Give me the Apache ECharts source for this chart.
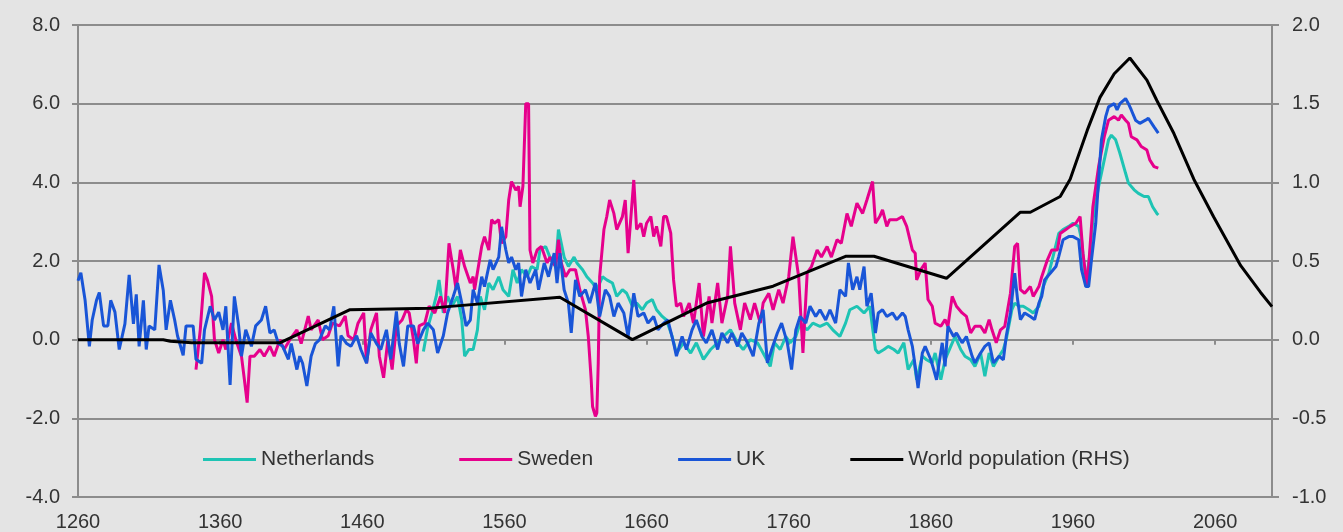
<!DOCTYPE html>
<html>
<head>
<meta charset="utf-8">
<script src="https://cdn.jsdelivr.net/npm/echarts@6/dist/echarts.min.js"></script>
<style>
  html, body { margin: 0; padding: 0; background: #e4e4e4; }
  #chart { width: 1343px; height: 532px; }
</style>
</head>
<body>
<div id="chart"></div>
<script>
// year, value pairs (left axis, % growth)
var ukData = [[1260,1.5],[1262,1.7],[1265,1.0],[1268,-0.17],[1270,0.5],[1273,1.0],[1275,1.2],[1278,0.35],[1281,0.35],[1283,1.0],[1286,0.7],[1289,-0.25],[1293,0.4],[1296,1.65],[1299,0.4],[1301,1.15],[1303,-0.17],[1306,1.0],[1308,-0.25],[1310,0.35],[1314,0.25],[1317,1.9],[1320,1.25],[1322,0.25],[1325,1.0],[1328,0.5],[1330,0.1],[1334,-0.4],[1336,0.35],[1341,0.35],[1343,-0.5],[1347,-0.6],[1349,0.25],[1353,0.85],[1356,0.5],[1359,0.7],[1362,0.25],[1364,0.85],[1367,-1.15],[1370,1.1],[1373,0.35],[1375,-0.42],[1378,0.25],[1382,-0.17],[1385,0.35],[1389,0.5],[1392,0.85],[1395,0.17],[1398,0.25],[1401,-0.1],[1404,-0.17],[1408,-0.5],[1410,-0.1],[1414,-0.76],[1416,-0.42],[1418,-0.6],[1421,-1.18],[1424,-0.42],[1427,-0.1],[1430,0],[1434,0.35],[1437,0.25],[1440,0.85],[1443,-0.68],[1445,0.1],[1449,-0.1],[1452,-0.17],[1456,0.1],[1459,-0.25],[1463,-0.6],[1466,0.17],[1470,-0.1],[1473,-0.25],[1477,0.25],[1480,-0.5],[1484,0.72],[1486,-0.1],[1489,-0.68],[1492,0.35],[1496,0.35],[1499,-0.1],[1503,0.25],[1506,0.42],[1510,0.25],[1513,-0.34],[1517,0.1],[1520,0.68],[1524,1.1],[1527,1.44],[1530,0.93],[1533,0.35],[1536,0.5],[1538,1.27],[1541,0.93],[1544,1.6],[1546,1.35],[1550,2.03],[1552,1.78],[1556,2.1],[1558,2.87],[1561,2.28],[1563,1.95],[1565,2.1],[1568,1.78],[1570,1.95],[1572,1.1],[1575,1.78],[1578,1.44],[1582,1.78],[1584,1.27],[1588,1.95],[1591,1.6],[1595,2.2],[1597,1.44],[1599,2.2],[1602,1.27],[1605,0.93],[1607,0.17],[1610,1.52],[1613,1.1],[1617,1.27],[1620,0.93],[1624,1.44],[1627,0.59],[1631,1.27],[1634,1.1],[1637,0.59],[1640,0.93],[1644,0.68],[1647,0.08],[1651,1.18],[1654,0.59],[1658,0.68],[1661,0.42],[1665,0.59],[1668,0.25],[1672,0.42],[1675,0.5],[1679,-0.08],[1681,-0.42],[1685,0.08],[1688,-0.25],[1692,0.25],[1695,0.5],[1699,0.08],[1702,-0.08],[1706,0.25],[1710,-0.25],[1713,0.17],[1717,-0.08],[1720,0.17],[1724,-0.17],[1727,0.17],[1731,-0.08],[1735,-0.42],[1739,0.42],[1742,0.76],[1745,-0.59],[1748,-0.25],[1752,0.17],[1755,0.42],[1759,-0.08],[1762,-0.76],[1765,0.25],[1768,0.59],[1772,0.42],[1775,0.85],[1779,0.59],[1782,0.76],[1786,0.5],[1789,0.76],[1793,0.42],[1796,1.27],[1800,1.1],[1802,1.95],[1805,1.27],[1808,1.6],[1810,1.27],[1813,1.86],[1815,0.85],[1818,1.18],[1821,0.17],[1823,0.68],[1826,0.76],[1829,0.59],[1833,0.68],[1836,0.51],[1840,0.68],[1842,0.59],[1844,0.25],[1847,-0.17],[1849,-0.68],[1851,-1.23],[1854,-0.34],[1856,-0.17],[1860,-0.51],[1862,-0.76],[1864,-1.02],[1868,-0.08],[1870,-0.68],[1872,0.34],[1876,0.08],[1878,0.17],[1882,-0.08],[1885,0.08],[1889,-0.42],[1891,-0.59],[1895,-0.34],[1898,-0.17],[1901,-0.08],[1904,-0.59],[1908,-0.42],[1911,-0.51],[1913,0.08],[1916,0.68],[1919,1.69],[1921,1.02],[1923,0.51],[1926,0.68],[1930,0.59],[1933,0.51],[1936,0.93],[1938,1.1],[1940,1.52],[1944,1.69],[1948,1.86],[1950,2.12],[1953,2.54],[1957,2.62],[1960,2.62],[1964,2.54],[1966,1.78],[1969,1.35],[1971,1.35],[1973,2.03],[1976,2.96],[1978,4.06],[1980,5.08],[1983,5.67],[1985,5.92],[1989,6.0],[1991,5.84],[1993,6.0],[1997,6.13],[1999,6.0],[2001,5.84],[2004,5.58],[2007,5.5],[2011,5.58],[2013,5.63],[2017,5.41],[2020,5.25]];

var seData = [[1343,-0.76],[1346,0.25],[1349,1.7],[1351,1.52],[1354,1.1],[1356,0],[1359,-0.34],[1362,0],[1364,-0.25],[1368,0.42],[1371,0],[1375,-0.42],[1377,-1.0],[1379,-1.6],[1381,-0.42],[1384,-0.42],[1388,-0.25],[1391,-0.42],[1395,-0.17],[1398,-0.42],[1402,0],[1405,-0.25],[1409,0],[1414,0.25],[1417,-0.1],[1422,0.6],[1424,0.25],[1429,0.5],[1432,0],[1436,0.1],[1439,0.42],[1444,0.35],[1448,0.6],[1450,0.1],[1454,0],[1457,0.42],[1461,0.68],[1463,-0.6],[1466,0.25],[1470,0.68],[1472,-0.42],[1475,-0.97],[1478,0],[1481,-0.76],[1484,0.35],[1488,0.5],[1491,0.76],[1493,0.68],[1496,0],[1498,-0.6],[1500,0.35],[1504,0.42],[1507,0.85],[1511,0.68],[1515,1.1],[1518,0.68],[1521,2.45],[1524,1.78],[1526,1.27],[1529,2.28],[1532,1.86],[1536,1.44],[1538,1.6],[1539,1.27],[1544,2.37],[1546,2.62],[1549,2.28],[1551,3.05],[1553,2.96],[1556,3.05],[1558,2.45],[1561,2.62],[1563,3.55],[1565,4.02],[1568,3.8],[1570,3.9],[1571,3.38],[1573,3.9],[1575,6.0],[1577,6.0],[1578,2.28],[1580,1.95],[1583,2.28],[1586,2.37],[1590,1.95],[1592,2.1],[1596,1.86],[1598,2.54],[1600,1.95],[1603,1.6],[1606,1.78],[1610,1.78],[1613,1.27],[1617,0.76],[1619,0.08],[1621,-1.0],[1622,-1.7],[1624,-1.95],[1625,-1.86],[1626,-0.6],[1627,1.6],[1630,2.8],[1632,3.13],[1634,3.55],[1637,3.21],[1639,2.8],[1643,3.13],[1645,3.55],[1647,2.2],[1651,4.06],[1653,2.8],[1656,2.96],[1658,2.62],[1660,2.96],[1663,3.13],[1665,2.62],[1667,2.88],[1670,2.37],[1672,3.13],[1674,3.13],[1677,2.71],[1679,1.52],[1681,0.85],[1684,0.93],[1686,0.59],[1690,0.93],[1693,0.42],[1697,1.44],[1700,0.08],[1704,1.1],[1706,0.42],[1710,1.44],[1713,0.42],[1717,1.1],[1719,2.37],[1722,0.93],[1726,0.25],[1729,0.93],[1733,0.51],[1736,0.93],[1740,0.42],[1742,0.93],[1746,1.18],[1749,0.76],[1753,1.27],[1756,0.93],[1760,1.6],[1763,2.62],[1767,1.6],[1770,-0.34],[1773,1.7],[1776,1.86],[1780,2.28],[1783,2.1],[1787,2.37],[1790,2.1],[1794,2.54],[1797,2.45],[1801,3.21],[1804,2.88],[1808,3.47],[1812,3.21],[1815,3.55],[1819,4.02],[1821,2.96],[1824,3.13],[1826,3.3],[1829,2.88],[1831,3.05],[1836,3.05],[1840,3.13],[1843,2.88],[1847,2.28],[1849,2.2],[1850,1.52],[1853,1.78],[1856,1.95],[1858,1.02],[1861,0.85],[1863,0.42],[1867,0.34],[1870,0.51],[1872,0.34],[1875,1.1],[1878,0.85],[1882,0.68],[1885,0.59],[1888,0.17],[1891,0.34],[1895,0.34],[1898,0.17],[1901,0.51],[1903,0.25],[1906,-0.08],[1909,0.25],[1912,0.34],[1916,1.18],[1919,2.37],[1921,2.45],[1923,1.27],[1926,1.18],[1930,1.35],[1932,1.1],[1936,1.35],[1938,1.6],[1942,2.03],[1945,2.28],[1949,2.28],[1951,2.7],[1955,2.8],[1958,2.88],[1962,2.96],[1965,3.13],[1967,2.2],[1970,1.35],[1972,2.37],[1974,3.38],[1978,4.4],[1982,5.16],[1985,5.58],[1989,5.67],[1992,5.58],[1994,5.71],[1997,5.58],[1999,5.5],[2001,5.16],[2005,5.08],[2008,4.91],[2012,4.82],[2014,4.57],[2017,4.4],[2020,4.36]];

var nlData = [[1503,-0.3],[1506,0.3],[1509,0.68],[1512,1.1],[1514,1.52],[1517,0.68],[1520,1.1],[1523,0.85],[1527,1.1],[1530,0.5],[1532,-0.42],[1535,-0.25],[1538,-0.25],[1541,0.25],[1543,1.1],[1546,0.76],[1549,1.44],[1552,1.27],[1556,1.6],[1559,1.27],[1563,1.1],[1566,1.78],[1569,1.44],[1572,1.78],[1576,1.6],[1579,1.86],[1583,1.78],[1585,2.28],[1589,2.37],[1592,2.1],[1596,1.86],[1598,2.8],[1602,2.1],[1605,1.86],[1609,2.1],[1611,1.95],[1615,1.78],[1618,1.6],[1622,1.44],[1625,1.27],[1629,1.6],[1632,1.52],[1636,1.44],[1639,1.1],[1643,1.27],[1646,1.18],[1650,0.85],[1653,0.93],[1657,0.76],[1660,0.93],[1664,1.02],[1667,0.76],[1671,0.59],[1674,0.5],[1678,0.08],[1681,-0.34],[1686,-0.08],[1691,-0.34],[1695,-0.08],[1700,-0.5],[1705,-0.25],[1710,-0.08],[1714,0.08],[1719,0.25],[1724,-0.08],[1728,-0.25],[1733,0],[1738,-0.08],[1742,-0.34],[1747,-0.68],[1750,-0.08],[1754,-0.25],[1758,0.08],[1761,-0.08],[1765,0.08],[1768,0.42],[1773,0.25],[1777,0.42],[1782,0.34],[1787,0.42],[1791,0.25],[1796,0.08],[1800,0.42],[1803,0.76],[1808,0.85],[1813,0.68],[1817,0.85],[1821,-0.25],[1823,-0.34],[1827,-0.25],[1830,-0.17],[1834,-0.25],[1837,-0.34],[1841,-0.08],[1844,-0.76],[1848,-0.51],[1850,-1.02],[1854,-0.42],[1857,-0.51],[1861,-0.59],[1863,-0.34],[1867,-1.02],[1870,-0.51],[1874,-0.17],[1877,0.08],[1881,-0.25],[1884,-0.42],[1888,-0.51],[1891,-0.68],[1895,-0.34],[1898,-0.93],[1901,-0.34],[1904,-0.68],[1908,-0.42],[1911,-0.25],[1913,0],[1917,0.76],[1919,0.93],[1922,0.85],[1925,0.85],[1929,0.76],[1932,0.68],[1936,0.85],[1939,1.35],[1943,1.69],[1946,2.12],[1950,2.7],[1953,2.8],[1957,2.88],[1960,2.96],[1964,2.88],[1966,2.54],[1969,1.44],[1972,2.2],[1974,3.05],[1978,3.89],[1982,4.57],[1985,5.08],[1987,5.2],[1990,5.08],[1993,4.74],[1997,4.23],[1999,3.98],[2003,3.81],[2006,3.72],[2010,3.64],[2013,3.64],[2016,3.38],[2019,3.21],[2020,3.17]];

// world population growth, right axis
var popData = [[1260,0.0],[1320,0.0],[1325,-0.01],[1340,-0.02],[1402,-0.02],[1451,0.19],[1508,0.2],[1520,0.21],[1599,0.27],[1650,0.0],[1703,0.235],[1749,0.34],[1800,0.53],[1820,0.53],[1871,0.39],[1923,0.81],[1930,0.81],[1951,0.91],[1958,1.02],[1970,1.33],[1979,1.54],[1989,1.69],[2000,1.79],[2012,1.65],[2019,1.52],[2031,1.31],[2045,1.02],[2059,0.78],[2078,0.47],[2092,0.30],[2100,0.21]];

var seriesNames = ['Netherlands', 'Sweden', 'UK', 'World population (RHS)'];
var seriesColors = ['#1ec4b4', '#e6008c', '#1955d7', '#000000'];

var gridColor = '#8c8c8c';
var textColor = '#333333';
var font = "'Liberation Sans', Arial, sans-serif";

var chart = echarts.init(document.getElementById('chart'));

function line(name, data, color, yIdx) {
	return {
		name: name,
		type: 'line',
		data: data,
		yAxisIndex: yIdx,
		showSymbol: false,
		symbol: 'none',
		lineStyle: { width: 3, color: color },
		itemStyle: { color: color }
	};
}

var option = {
	backgroundColor: '#e4e4e4',
	animation: false,
	textStyle: { fontFamily: font },
	grid: { left: 78, right: 71, top: 25, bottom: 34 },
	legend: {
		left: 203,
		top: 449,
		padding: 0,
		itemGap: 85,
		itemWidth: 53,
		itemHeight: 3,
		icon: 'rect',
		data: seriesNames,
		textStyle: { fontSize: 21, color: textColor, fontFamily: font }
	},
	xAxis: [{
		type: 'value',
		min: 1260,
		max: 2100,
		interval: 100,
		axisLine: { onZero: false, lineStyle: { color: gridColor, width: 2 } },
		axisTick: { show: false },
		splitLine: { show: false },
		axisLabel: {
			fontSize: 20, color: textColor, margin: 15, showMaxLabel: false, fontFamily: font,
			formatter: function(v) { return String(v); }
		}
	}, {
		// small ticks sitting on the zero line
		type: 'value',
		position: 'top',
		min: 1260,
		max: 2100,
		interval: 100,
		axisLine: { show: false, onZero: true },
		axisTick: { show: true, inside: true, length: 5, lineStyle: { color: gridColor, width: 2 } },
		splitLine: { show: false },
		axisLabel: { show: false }
	}],
	yAxis: [{
		type: 'value',
		min: -4,
		max: 8,
		interval: 2,
		axisLine: { show: true, lineStyle: { color: gridColor, width: 2 } },
		axisTick: { show: true, length: 6, lineStyle: { color: gridColor, width: 2 } },
		splitLine: { lineStyle: { color: gridColor, width: 2 } },
		axisLabel: {
			fontSize: 20, color: textColor, margin: 18, fontFamily: font,
			formatter: function(v) { return v.toFixed(1); }
		}
	}, {
		type: 'value',
		position: 'right',
		min: -1,
		max: 2,
		interval: 0.5,
		axisLine: { show: true, lineStyle: { color: gridColor, width: 2 } },
		axisTick: { show: true, length: 7, lineStyle: { color: gridColor, width: 2 } },
		splitLine: { show: false },
		axisLabel: {
			fontSize: 20, color: textColor, margin: 20, fontFamily: font,
			formatter: function(v) { return v.toFixed(1); }
		}
	}],
	series: [
		line(seriesNames[0], nlData, seriesColors[0], 0),
		line(seriesNames[1], seData, seriesColors[1], 0),
		line(seriesNames[2], ukData, seriesColors[2], 0),
		line(seriesNames[3], popData, seriesColors[3], 1)
	]
};

chart.setOption(option);
</script>
</body>
</html>
